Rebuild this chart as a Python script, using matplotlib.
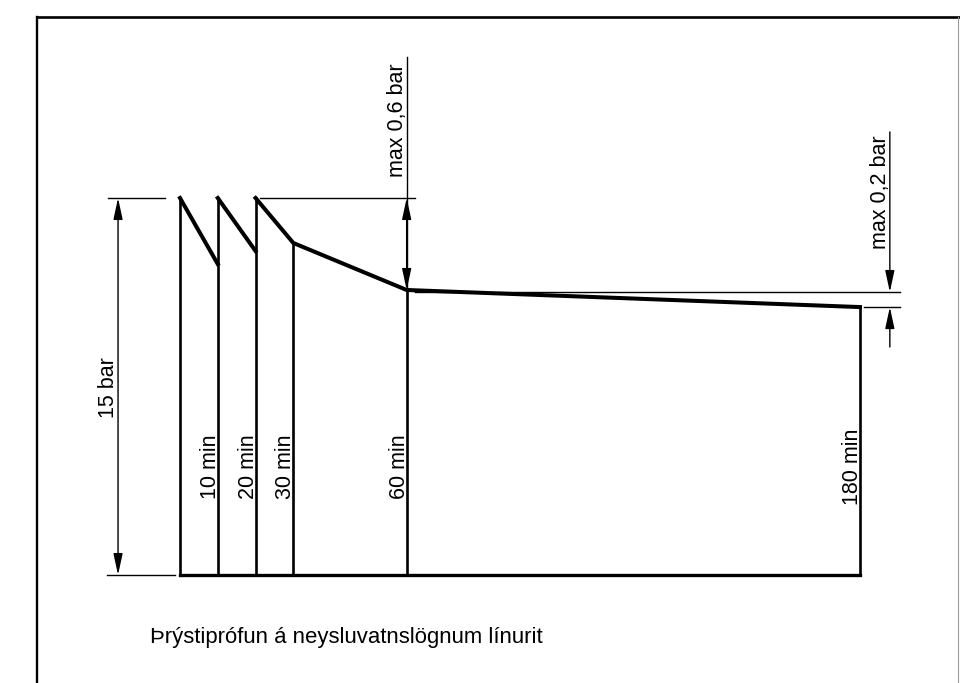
import matplotlib
matplotlib.use('Agg')
from matplotlib import pyplot as plt
from matplotlib.lines import Line2D

plt.rcParams['font.family'] = ['Liberation Sans', 'DejaVu Sans']

# pressure test: minutes vs. pressure (schematic, bar)
times = [0, 10, 20, 30, 60, 180]
start_pressure = 15.0
drop_pressure = [12.37, 12.89, 13.21]      # end of the 10/20/30 min intervals
hold_pressure = [11.34, 10.66]             # at 60 min and 180 min
time_labels = ["10 min", "20 min", "30 min", "60 min", "180 min"]
title = "Þrýstiprófun á neysluvatnslögnum línurit"

W, H = 960, 683
fig = plt.figure(figsize=(W / 100, H / 100), dpi=100)
fig.patch.set_facecolor('white')

# axes placed so 0..180 min / 0..15 bar sits where the drawing has it
ax = fig.add_axes([180 / W, 1 - 575 / H, 680 / W, 377 / H])
ax.set_xlim(0, 180)
ax.set_ylim(0, 15)
ax.axis('off')

thick = 2.9
mid = 1.9
thin = 1.0
fs = 15.5

# sawtooth part: three refills back to 15 bar
t0, t10, t20, t30, t60, t180 = times
p60, p180 = hold_pressure
ax.plot([t0, t10], [start_pressure, drop_pressure[0]], color='black', lw=thick, clip_on=False)
ax.plot([t10, t20], [start_pressure, drop_pressure[1]], color='black', lw=thick, clip_on=False)
ax.plot([t20, t30, t60, t180], [start_pressure, drop_pressure[2], p60, p180],
        color='black', lw=thick, clip_on=False)

# vertical time lines and base line
tops = [start_pressure, start_pressure, start_pressure, drop_pressure[2], p60, p180]
for t, top in zip(times, tops):
    ax.plot([t, t], [0, top], color='black', lw=mid, clip_on=False)
ax.plot([t0, t180], [0, 0], color='black', lw=mid + 0.5, clip_on=False)

head = 'head_length=1.3,head_width=0.28'
arrow_kw = dict(arrowstyle='-|>,' + head, mutation_scale=10,
                color='black', lw=thin, shrinkA=0, shrinkB=0)
darrow_kw = dict(arrow_kw, arrowstyle='<|-|>,' + head)

# 15 bar dimension
dim15 = t0 - 16.4
ax.plot([t0 - 19.1, t0 - 4.0], [start_pressure] * 2, color='black', lw=thin, clip_on=False)
ax.plot([t0 - 19.3, t0 - 1.3], [0, 0], color='black', lw=thin, clip_on=False)
ax.annotate('', xy=(dim15, 0), xytext=(dim15, start_pressure), arrowprops=darrow_kw,
            annotation_clip=False)
ax.text(dim15 - 1.0, 7.45, "15 bar", rotation=90, rotation_mode='anchor',
        ha='center', va='baseline', fontsize=fs)

# max 0,6 bar dimension (at 60 min)
ax.plot([21.2, t60 + 2.2], [start_pressure] * 2, color='black', lw=thin, clip_on=False)
ax.plot([t60, t60], [p60, 20.6], color='black', lw=thin, clip_on=False)
ax.annotate('', xy=(t60, p60), xytext=(t60, start_pressure), arrowprops=darrow_kw,
            annotation_clip=False)
ax.text(t60 - 1.0, 18.1, "max 0,6 bar", rotation=90, rotation_mode='anchor',
        ha='center', va='baseline', fontsize=fs)

# max 0,2 bar dimension (at 180 min)
dim02 = t180 + 7.9
ax.plot([t60 + 2.2, t180 + 10.6], [p60 - 0.08] * 2, color='black', lw=thin, clip_on=False)
ax.plot([t180 + 1.0, t180 + 10.6], [p180, p180], color='black', lw=thin, clip_on=False)
ax.annotate('', xy=(dim02, p60 - 0.08), xytext=(dim02, 17.63), arrowprops=arrow_kw,
            annotation_clip=False)
ax.annotate('', xy=(dim02, p180), xytext=(dim02, 9.07), arrowprops=arrow_kw,
            annotation_clip=False)
ax.text(dim02 - 1.0, 15.24, "max 0,2 bar", rotation=90, rotation_mode='anchor',
        ha='center', va='baseline', fontsize=fs)

# time labels next to the vertical lines
for t, label in zip(times[1:], time_labels):
    ax.annotate(label, xy=(t, 4.3), xytext=(-2, 0), textcoords='offset pixels',
                rotation=90, rotation_mode='anchor', ha='center', va='baseline',
                fontsize=fs, annotation_clip=False)

fig.text(150 / W, 1 - 638 / H, title, ha='left', va='center', fontsize=15.9)

# drawing frame
fig.add_artist(Line2D([37 / W, 1.0], [1 - 17 / H] * 2, transform=fig.transFigure, color='black', lw=1.9))
fig.add_artist(Line2D([37 / W] * 2, [0.0, 1 - 17 / H], transform=fig.transFigure, color='black', lw=1.7))
fig.add_artist(Line2D([958 / W] * 2, [0.0, 1 - 17 / H], transform=fig.transFigure, color='#9a9a9a', lw=0.8))

fig.savefig('out.png', dpi=100, facecolor='white')
